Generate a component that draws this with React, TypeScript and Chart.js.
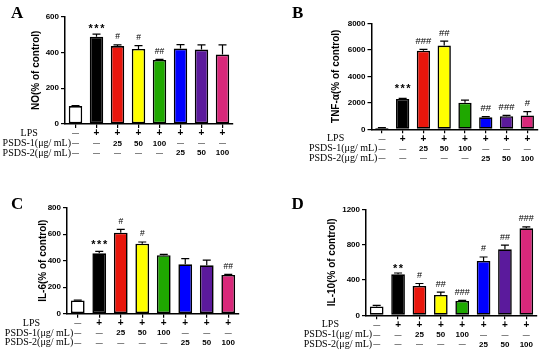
import React, { useEffect, useRef } from 'react';
import { Chart, registerables } from 'chart.js';

Chart.register(...registerables);

// ---------- shared categories & table ----------
const groups = ['Control', 'LPS', 'PSDS-1 25', 'PSDS-1 50', 'PSDS-1 100', 'PSDS-2 25', 'PSDS-2 50', 'PSDS-2 100'];
const barColors = ['#ffffff', '#000000', '#e8160c', '#ffff00', '#1fa800', '#0000ff', '#5b1a9c', '#d8287a'];
const rowLabels = ['LPS', 'PSDS-1(μg/ mL)', 'PSDS-2(μg/ mL)'];
const lpsRow = ['—', '+', '+', '+', '+', '+', '+', '+'];
const psds1Row = ['—', '—', '25', '50', '100', '—', '—', '—'];
const psds2Row = ['—', '—', '—', '—', '—', '25', '50', '100'];

// ---------- panel A: NO ----------
const noValues = [100, 488, 436, 420, 358, 422, 416, 388];
const noErrors = [3, 15, 6, 18, 3, 22, 26, 54];
const noMarks = ['', '***', '#', '#', '##', '', '', ''];
const noTicks = [0, 200, 400, 600];

// ---------- panel B: TNF-α ----------
const tnfValues = [100, 2285, 5930, 6320, 2010, 905, 985, 1040];
const tnfErrors = [20, 50, 100, 330, 190, 45, 70, 290];
const tnfMarks = ['', '***', '###', '##', '', '##', '###', '#'];
const tnfTicks = [0, 2000, 4000, 6000, 8000];

// ---------- panel C: IL-6 ----------
const il6Values = [100, 456, 611, 528, 441, 373, 365, 292];
const il6Errors = [3, 14, 26, 13, 7, 42, 40, 5];
const il6Marks = ['', '***', '#', '#', '', '', '', '##'];
const il6Ticks = [0, 200, 400, 600, 800];

// ---------- panel D: IL-10 ----------
const il10Values = [100, 464, 332, 230, 162, 615, 747, 985];
const il10Errors = [13, 15, 28, 32, 7, 45, 48, 15];
const il10Marks = ['', '**', '#', '##', '###', '#', '##', '###'];
const il10Ticks = [0, 400, 800, 1200];

type Panel = {
  letter: string;
  title: string;
  values: number[];
  errors: number[];
  marks: string[];
  ticks: number[];
  pos: { x: number; y: number };
  area: { left: number; right: number; top: number; bottom: number };
  titleX: number;
  letterPos: { x: number; y: number };
  hashSize: number;
  starOffset: number;
};

const W = 275;
const H = 176;

const panels: Panel[] = [
  {
    letter: 'A', title: 'NO(% of control)', values: noValues, errors: noErrors, marks: noMarks, ticks: noTicks,
    pos: { x: 0, y: 0 }, area: { left: 65, right: 233, top: 16.7, bottom: 124 }, titleX: 36.7,
    letterPos: { x: 11, y: 17.5 }, hashSize: 8.5, starOffset: 8,
  },
  {
    letter: 'B', title: 'TNF-α(% of control)', values: tnfValues, errors: tnfErrors, marks: tnfMarks, ticks: tnfTicks,
    pos: { x: 275, y: 0 }, area: { left: 96.5, right: 262.7, top: 23.3, bottom: 129.3 }, titleX: 61,
    letterPos: { x: 17, y: 17.5 }, hashSize: 9.5, starOffset: 13,
  },
  {
    letter: 'C', title: 'IL-6(% of control)', values: il6Values, errors: il6Errors, marks: il6Marks, ticks: il6Ticks,
    pos: { x: 0, y: 176 }, area: { left: 67, right: 239, top: 31.7, bottom: 137.7 }, titleX: 43.3,
    letterPos: { x: 11, y: 32.5 }, hashSize: 8.5, starOffset: 10,
  },
  {
    letter: 'D', title: 'IL-10(% of control)', values: il10Values, errors: il10Errors, marks: il10Marks, ticks: il10Ticks,
    pos: { x: 275, y: 176 }, area: { left: 91, right: 262, top: 33.3, bottom: 139.3 }, titleX: 57.3,
    letterPos: { x: 16.5, y: 32.5 }, hashSize: 9, starOffset: 7.5,
  },
];

const SANS = '"Liberation Sans", Arial, sans-serif';
const SERIF = '"Liberation Serif", "Times New Roman", serif';
const TITLE_SIZE = 10;

function makePlugin(p: Panel) {
  return {
    id: 'decor' + p.letter,
    afterDatasetsDraw(chart: any) {
      const ctx = chart.ctx;
      const meta = chart.getDatasetMeta(0);
      const ys = chart.scales.y;
      ctx.save();
      meta.data.forEach((bar: any, i: number) => {
        const v = p.values[i];
        const e = p.errors[i];
        const x = bar.x;
        const yTop = ys.getPixelForValue(v);
        const yCap = ys.getPixelForValue(v + e);
        ctx.strokeStyle = '#000';
        ctx.lineWidth = 1.2;
        ctx.beginPath();
        ctx.moveTo(x, yTop);
        ctx.lineTo(x, yCap);
        ctx.moveTo(x - 4, yCap);
        ctx.lineTo(x + 4, yCap);
        ctx.stroke();
        const m = p.marks[i];
        if (m) {
          ctx.fillStyle = '#000';
          ctx.textAlign = 'center';
          if (m.startsWith('*')) {
            const fs = 11;
            ctx.font = `bold ${fs}px ${SANS}`;
            (ctx as any).letterSpacing = '1.5px';
            ctx.textBaseline = 'alphabetic';
            ctx.fillText(m, x + 0.75, yCap - p.starOffset + 0.58 * fs);
            (ctx as any).letterSpacing = '0px';
          } else {
            ctx.font = `${p.hashSize}px ${SANS}`;
            ctx.textBaseline = 'middle';
            ctx.fillText(m, x, yCap - 8);
          }
        }
      });
      ctx.restore();
    },
    afterDraw(chart: any) {
      const ctx = chart.ctx;
      const xs = chart.scales.x;
      const base = chart.chartArea.bottom;
      const rowsY = [base + 9.5, base + 19.3, base + 29];
      const rows = [lpsRow, psds1Row, psds2Row];
      ctx.save();
      ctx.fillStyle = '#000';
      ctx.textAlign = 'center';
      ctx.textBaseline = 'middle';
      rows.forEach((row, r) => {
        row.forEach((t, i) => {
          const x = xs.getPixelForValue(i);
          if (t === '+') ctx.font = `bold 10px ${SANS}`;
          else if (t === '—') ctx.font = `7px ${SANS}`;
          else ctx.font = `bold 8px ${SANS}`;
          ctx.fillText(t, x, rowsY[r]);
        });
      });
      // row labels
      const x0 = xs.getPixelForValue(0) - 4.5;
      ctx.font = `10px ${SERIF}`;
      ctx.textAlign = 'right';
      ctx.fillText(rowLabels[1], x0, rowsY[1]);
      ctx.fillText(rowLabels[2], x0, rowsY[2]);
      const wLab = ctx.measureText(rowLabels[1]).width;
      ctx.textAlign = 'left';
      ctx.fillText(rowLabels[0], x0 - wLab + 18, rowsY[0]);
      // panel letter
      ctx.font = `bold 17px ${SERIF}`;
      ctx.textBaseline = 'alphabetic';
      ctx.fillText(p.letter, p.letterPos.x, p.letterPos.y);
      ctx.restore();
    },
  };
}

function PanelChart({ p }: { p: Panel }) {
  const ref = useRef<HTMLCanvasElement | null>(null);
  useEffect(() => {
    if (!ref.current) return;
    const titleLine = TITLE_SIZE * 1.2;
    const scaleLeft = p.titleX - titleLine / 2;
    const yWidth = p.area.left - scaleLeft;
    const xHeight = H - p.area.bottom;
    const chart = new Chart(ref.current, {
      type: 'bar',
      data: {
        labels: groups,
        datasets: [
          {
            data: p.values,
            backgroundColor: barColors,
            borderColor: '#000',
            borderWidth: 1.6,
            borderSkipped: false,
            barPercentage: 0.64,
            categoryPercentage: 1,
          },
        ],
      },
      options: {
        responsive: false,
        animation: false,
        events: [],
        layout: { padding: { left: scaleLeft, right: W - p.area.right, top: p.area.top, bottom: 0 } },
        plugins: { legend: { display: false }, tooltip: { enabled: false } },
        scales: {
          x: {
            type: 'category',
            offset: true,
            ticks: { display: false },
            grid: { offset: false, drawOnChartArea: false, drawTicks: true, tickLength: 4, color: '#000', lineWidth: 1.2 },
            border: { display: true, color: '#000', width: 1.5 },
            afterFit: (s: any) => { s.height = xHeight; },
          },
          y: {
            min: p.ticks[0],
            max: p.ticks[p.ticks.length - 1],
            afterBuildTicks: (s: any) => { s.ticks = p.ticks.map((v) => ({ value: v })); },
            ticks: {
              color: '#000',
              font: { family: SANS, size: 8, weight: 'bold' },
              padding: 2,
              callback: (v: any) => String(v),
            },
            grid: { drawOnChartArea: false, drawTicks: true, tickLength: 4, color: '#000', lineWidth: 1.2 },
            border: { display: true, color: '#000', width: 1.5 },
            title: {
              display: true,
              text: p.title,
              color: '#000',
              font: { family: SANS, size: TITLE_SIZE, weight: 'bold' },
              padding: { top: 0, bottom: 0 },
            },
            afterFit: (s: any) => { s.width = yWidth; },
          },
        },
      },
      plugins: [makePlugin(p)],
    } as any);
    return () => chart.destroy();
  }, [p]);
  return (
    <canvas
      ref={ref}
      width={W}
      height={H}
      style={{ position: 'absolute', left: p.pos.x, top: p.pos.y, width: W, height: H }}
    />
  );
}

export default function App() {
  return (
    <div style={{ position: 'absolute', left: 0, top: 0, width: 550, height: 352, background: '#fff' }}>
      {panels.map((p) => (
        <PanelChart key={p.letter} p={p} />
      ))}
    </div>
  );
}
